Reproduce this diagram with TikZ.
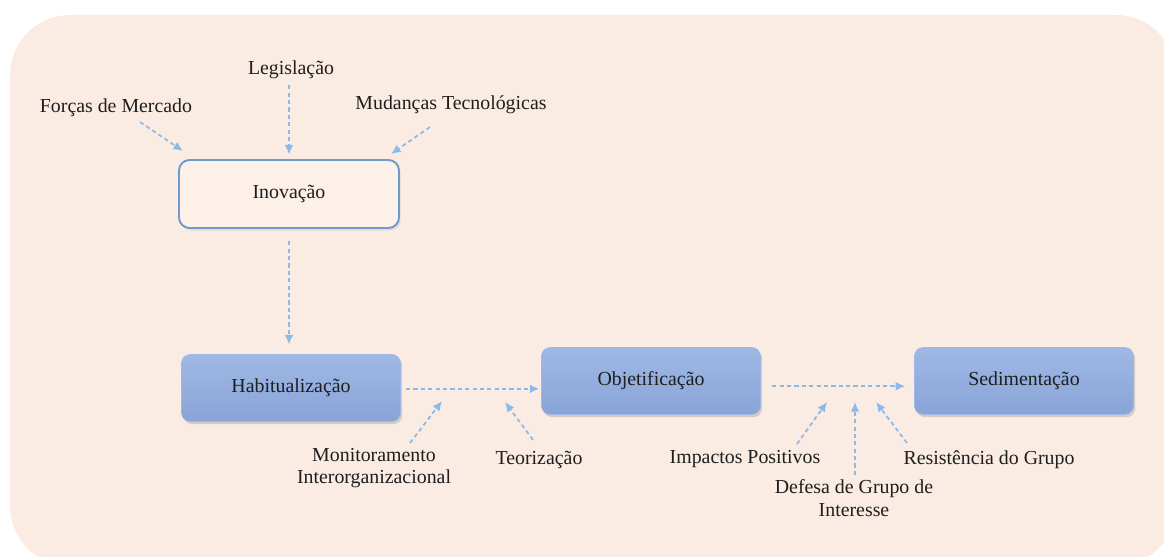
\documentclass[tikz,border=0pt]{standalone}
\usepackage{fontspec}
\setmainfont{Liberation Serif}
\usepackage{xcolor}
\usetikzlibrary{positioning}
\usetikzlibrary{arrows.meta}
\usetikzlibrary{shadows}
\definecolor{fundo}{HTML}{FBECE3}
\definecolor{seta}{HTML}{8DB9E6}
\definecolor{azulcaixa}{HTML}{88A4D7}
\definecolor{azulclaro}{HTML}{9FB8E5}
\definecolor{borda}{HTML}{6E9BCF}
\definecolor{texto}{HTML}{1E1E1E}

\begin{document}
\begin{tikzpicture}[x=0.02cm,y=-0.02cm,
		font=\fontsize{11.3}{13}\selectfont,text=texto,
		flow/.style={draw=seta,line width=1pt,dash pattern=on 2.4pt off 1.8pt,-{Latex[length=5.5pt,width=5pt]}},
		etapa/.style={rounded corners=5pt,minimum width=4.38cm,minimum height=1.34cm,
			top color=azulclaro,bottom color=azulcaixa,draw=azulclaro,
			drop shadow={opacity=0.3,shadow xshift=1pt,shadow yshift=-1.5pt}},
		inicio/.style={rounded corners=6pt,minimum width=4.4cm,minimum height=1.36cm,
			fill=fundo!80!white,draw=borda,line width=1.1pt,
			drop shadow={opacity=0.15,shadow xshift=1pt,shadow yshift=-1.5pt}}]
		\useasboundingbox (0,0) rectangle (1164,557);
		\fill[fundo,rounded corners=1.2cm] (10,15) rectangle (1176,566);

		\node[inicio] (inov) at (289,194) {Inovação};
		\node[etapa] (hab) at (291,388) {Habitualização};
		\node[etapa] (obj) at (651,381) {Objetificação};
		\node[etapa] (sed) at (1024,381) {Sedimentação};

		\node (forcas) at (116,108) {Forças de Mercado};
		\node (legis) at (291,70) {Legislação};
		\node (mudtec) at (451,105) {Mudanças Tecnológicas};
		\node[align=center] (monit) at (374,468) {Monitoramento\\Interorganizacional};
		\node (teor) at (539,460) {Teorização};
		\node (impac) at (745,459) {Impactos Positivos};
		\node[align=center] (defesa) at (854,498) {Defesa de Grupo de\\Interesse};
		\node (resist) at (989,460) {Resistência do Grupo};

		\coordinate (alvoM) at (442,401);
		\coordinate (alvoT) at (505,402);
		\coordinate (alvoI) at (827,402);
		\coordinate (alvoD) at (855,402);
		\coordinate (alvoR) at (876,402);

		\draw[flow] ([shift={(24,14)}]forcas.center) -- ([shift={(5,-8)}]inov.north west);
		\draw[flow,shorten >=2.5pt] (legis.south -| inov.north) -- (inov.north);
		\draw[flow] ([shift={(-21,22)}]mudtec.center) -- ([shift={(-9,-5)}]inov.north east);
		\draw[flow,shorten <=7pt,shorten >=5.5pt] (inov.south) -- (inov.south |- hab.north);
		\draw[flow,shorten <=3pt,shorten >=1pt] ([yshift=-0.5pt]hab.east) -- ([yshift=-0.5pt]hab.east -| obj.west);
		\draw[flow,shorten <=6.5pt,shorten >=5pt] ([yshift=-3pt]obj.east) -- ([yshift=-3pt]sed.west);

		\draw[flow] ([shift={(36,-25)}]monit.center) -- (alvoM);
		\draw[flow] ([shift={(-6,-20)}]teor.center) -- (alvoT);
		\draw[flow] ([shift={(52,-15)}]impac.center) -- (alvoI);
		\draw[flow] ([shift={(1,-23)}]defesa.center) -- (alvoD);
		\draw[flow] ([shift={(-82,-17)}]resist.center) -- (alvoR);

	\end{tikzpicture}
\end{document}
